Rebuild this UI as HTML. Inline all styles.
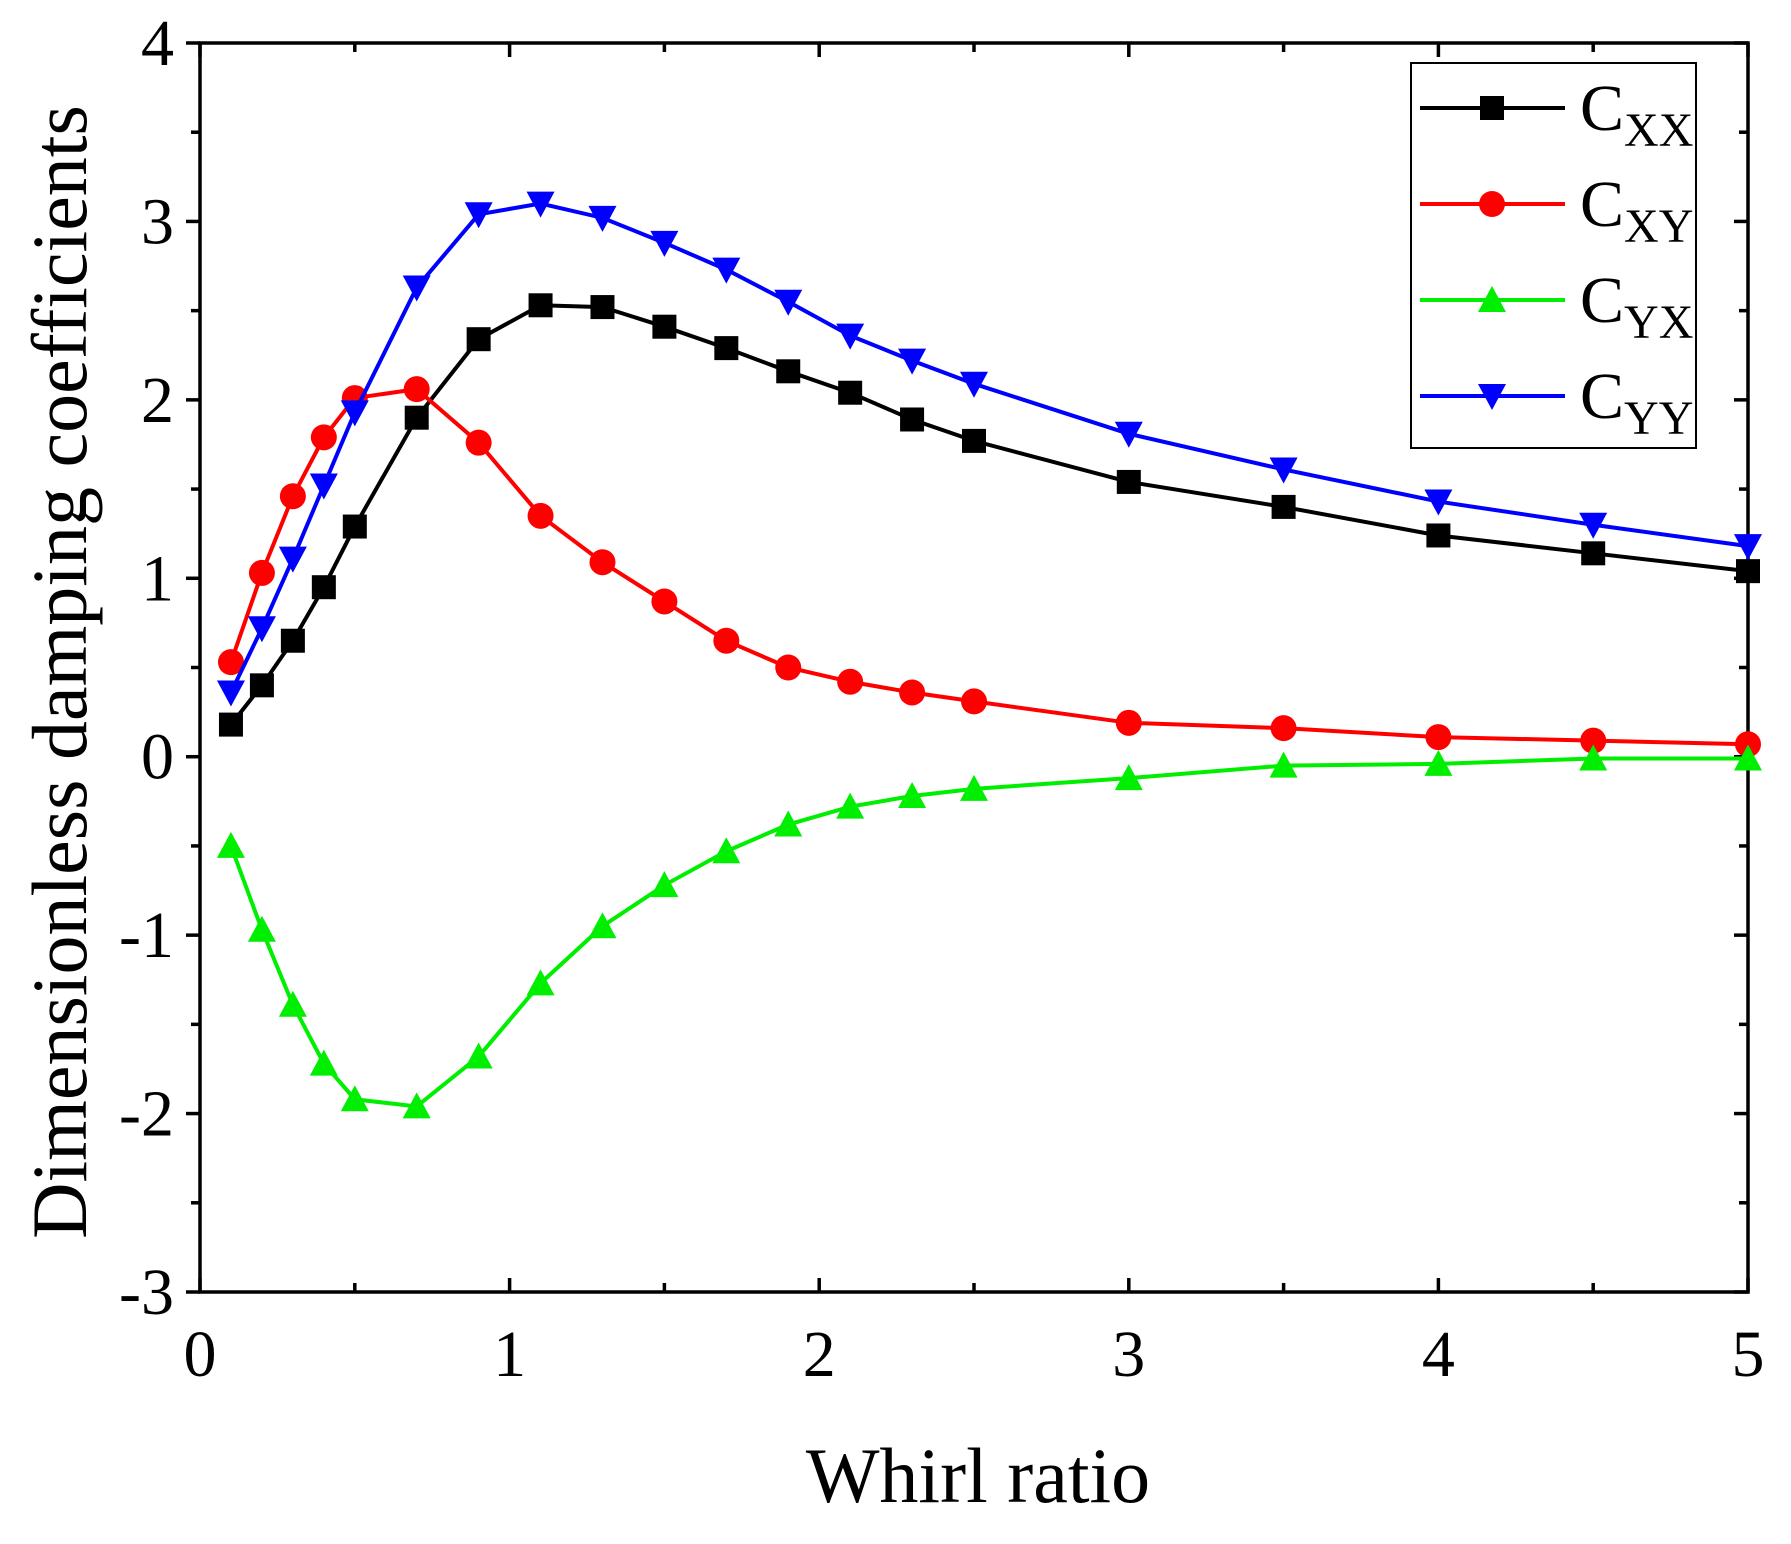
<!DOCTYPE html>
<html><head><meta charset="utf-8"><style>
body{margin:0;background:#fff}
svg text{font-family:"Liberation Serif",serif;fill:#000}
</style></head><body>
<svg id="chart" width="1791" height="1539" viewBox="0 0 1791 1539" xmlns="http://www.w3.org/2000/svg"></svg>
<script>
const xs=[0.1,0.2,0.3,0.4,0.5,0.7,0.9,1.1,1.3,1.5,1.7,1.9,2.1,2.3,2.5,3,3.5,4,4.5,5];
const cxx=[0.18,0.40,0.65,0.95,1.29,1.90,2.34,2.53,2.52,2.41,2.29,2.16,2.04,1.89,1.77,1.54,1.40,1.24,1.14,1.04];
const cxy=[0.53,1.03,1.46,1.79,2.01,2.06,1.76,1.35,1.09,0.87,0.65,0.50,0.42,0.36,0.31,0.19,0.16,0.11,0.09,0.07];
const cyx=[-0.50,-0.97,-1.39,-1.72,-1.92,-1.96,-1.68,-1.27,-0.95,-0.72,-0.53,-0.38,-0.28,-0.22,-0.18,-0.12,-0.05,-0.04,-0.01,-0.01];
const cyy=[0.36,0.72,1.11,1.52,1.93,2.63,3.04,3.10,3.02,2.88,2.73,2.55,2.36,2.22,2.09,1.81,1.61,1.43,1.30,1.18];
const xTicks=[0,1,2,3,4,5];
const yTicks=[-3,-2,-1,0,1,2,3,4];
const L=200,R=1748,T=43,B=1292;
const X=v=>L+(v-0)/5*(R-L);
const Y=v=>B-(v+3)/7*(B-T);
const svg=document.getElementById('chart');
const NS='http://www.w3.org/2000/svg';
function el(t,a,p){const e=document.createElementNS(NS,t);for(const k in a)e.setAttribute(k,a[k]);(p||svg).appendChild(e);return e;}
const frame=el('rect',{x:L,y:T,width:R-L,height:B-T,fill:'none',stroke:'#000','stroke-width':3.5});


for(let v=0;v<=5.001;v+=0.5){const maj=Math.abs(v-Math.round(v))<1e-6;const len=maj?14:9;
 el('line',{x1:X(v),x2:X(v),y1:B,y2:B-len,stroke:'#000','stroke-width':3.5});
 el('line',{x1:X(v),x2:X(v),y1:T,y2:T+len,stroke:'#000','stroke-width':3.5});}
for(let v=-3;v<=4.001;v+=0.5){const maj=Math.abs(v-Math.round(v))<1e-6;const len=maj?14:9;
 el('line',{x1:L,x2:L-len,y1:Y(v),y2:Y(v),stroke:'#000','stroke-width':3.5});
 el('line',{x1:R,x2:R-len,y1:Y(v),y2:Y(v),stroke:'#000','stroke-width':3.5});}
xTicks.forEach(v=>{const t=el('text',{x:X(v),y:B+84,'font-size':66,'text-anchor':'middle'});t.textContent=v;
 
 });
yTicks.forEach(v=>{const t=el('text',{x:L-26,y:Y(v)+22,'font-size':66,'text-anchor':'end'});t.textContent=v;
 
 });
const xt=el('text',{x:(L+R)/2+4,y:1502,'font-size':78,'text-anchor':'middle'});xt.textContent='Whirl ratio';


const yt=el('text',{x:0,y:0,'font-size':78,'text-anchor':'middle',transform:`translate(86,672) rotate(-90)`});yt.textContent='Dimensionless damping coefficients';


function marker(type,cx,cy,col,g){const s=12;
 if(type==='sq')return el('rect',{x:cx-s,y:cy-s,width:2*s,height:2*s,fill:col},g);
 if(type==='ci')return el('circle',{cx,cy,r:s+1,fill:col},g);
 if(type==='up')return el('polygon',{points:`${cx},${cy-s-2} ${cx-s-2},${cy+s} ${cx+s+2},${cy+s}`,fill:col},g);
 return el('polygon',{points:`${cx},${cy+s+2} ${cx-s-2},${cy-s} ${cx+s+2},${cy-s}`,fill:col},g);}
const series=[['cxx',cxx,'#000','sq'],['cxy',cxy,'#ff0000','ci'],['cyx',cyx,'#00ee00','up'],['cyy',cyy,'#0000ff','dn']];
series.forEach(([n,vals,col,m])=>{const g=el('g',{});
 
 
 el('polyline',{points:vals.map((v,i)=>X(xs[i])+','+Y(v)).join(' '),fill:'none',stroke:col,'stroke-width':4},g);
 vals.forEach((v,i)=>{const mk=marker(m,X(xs[i]),Y(v),col,g);
  
  });});
const lg=el('g',{});


el('rect',{x:1411,y:63,width:285,height:385,fill:'#fff',stroke:'#000','stroke-width':2},lg);
const labels=['XX','XY','YX','YY'];
series.forEach(([n,vals,col,m],i)=>{const y=108+i*96;
 const e=el('g',{},lg);
 
 
 el('line',{x1:1420,x2:1565,y1:y,y2:y,stroke:col,'stroke-width':4},e);
 marker(m,1492,y,col,e);
 const t=el('text',{x:1580,y:y+22,'font-size':66},e);
 t.innerHTML='C<tspan font-size="48" dy="16">'+labels[i]+'</tspan>';});
</script>
</body></html>
